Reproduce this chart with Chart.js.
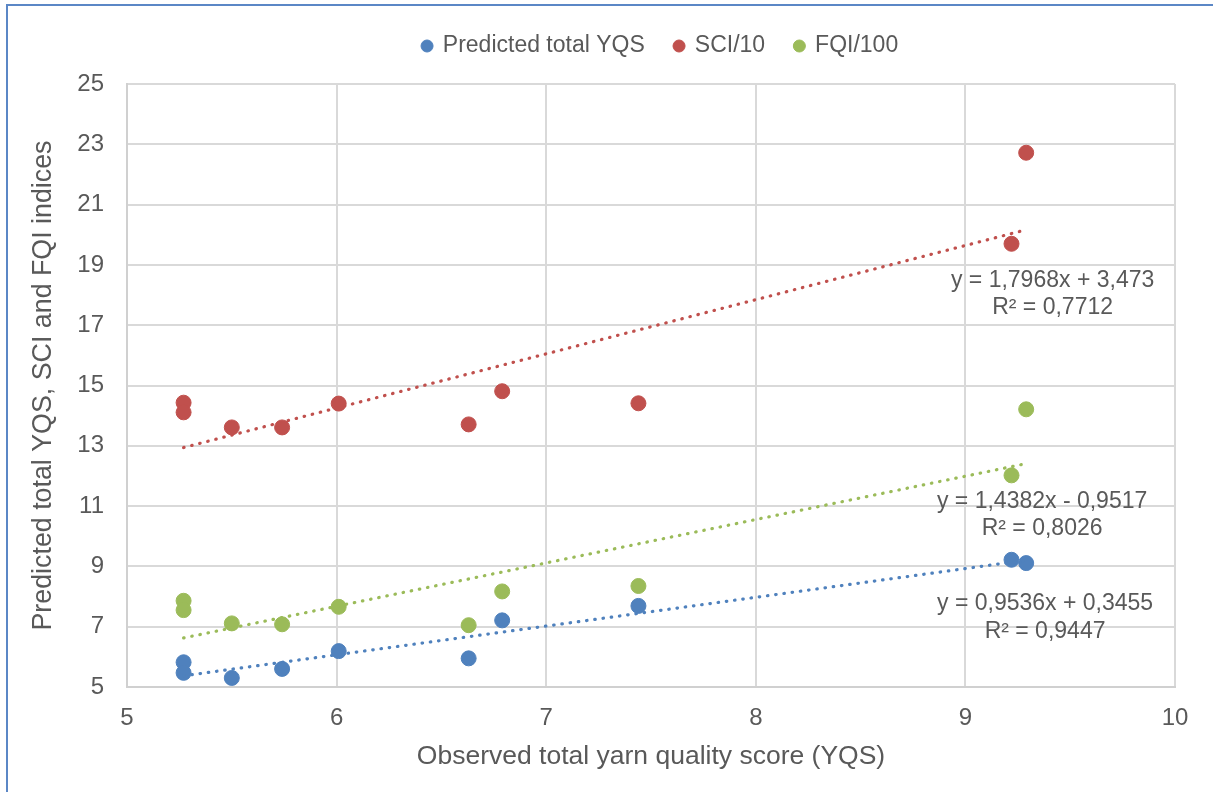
<!DOCTYPE html>
<html>
<head>
<meta charset="utf-8">
<script src="https://cdn.jsdelivr.net/npm/chart.js@4"></script>
<style>
  html, body { margin: 0; padding: 0; background: #fff; overflow: hidden; }
  #wrap { position: relative; width: 1213px; height: 792px; }
  #frame { position: absolute; left: 6px; top: 4px; width: 1300px; height: 900px;
           border-top: 2px solid #5b87c6; border-left: 2px solid #5b87c6; pointer-events: none; }
</style>
</head>
<body>
<div id="wrap">
  <canvas id="myChart" width="1213" height="792"></canvas>
  <div id="frame"></div>
</div>
<script>
'use strict';

// observed total YQS (x) - the same for all three series
const observed = [5.27, 5.27, 5.50, 5.74, 6.01, 6.63, 6.79, 7.44, 9.22, 9.29];
const predicted = [5.82, 5.47, 5.30, 5.60, 6.19, 5.95, 7.21, 7.69, 9.22, 9.11];
const sci10 = [14.43, 14.11, 13.61, 13.61, 14.40, 13.71, 14.81, 14.41, 19.70, 22.72];
const fqi100 = [7.86, 7.55, 7.11, 7.08, 7.66, 7.05, 8.17, 8.35, 12.02, 14.21];

const seriesNames = ['Predicted total YQS', 'SCI/10', 'FQI/100'];
const seriesColors = ['#4f81bd', '#c0504d', '#9bbb59'];

// linear trendlines as printed on the chart
const trendSlope = [0.9536, 1.7968, 1.4382];
const trendIntercept = [0.3455, 3.473, -0.9517];
const trendText = [
  ['y = 0,9536x + 0,3455', 'R² = 0,9447'],
  ['y = 1,7968x + 3,473', 'R² = 0,7712'],
  ['y = 1,4382x - 0,9517', 'R² = 0,8026']
];
// where the equation labels sit (in axis units)
const trendLabelAt = [[9.38, 7.75], [9.416, 18.48], [9.366, 11.16]];

const xTicks = { min: 5, max: 10, step: 1 };
const yTicks = { min: 5, max: 25, step: 2 };

const FONT = "'Liberation Sans', Arial, sans-serif";
const TEXT = '#595959';

function points(ys){
    return observed.map((x, i) => ({ x: x, y: ys[i] }));
}

function trendPoints(k){
    var lo = Math.min.apply(null, observed);
    var hi = Math.max.apply(null, observed);
    return [
        { x: lo, y: trendSlope[k] * lo + trendIntercept[k] },
        { x: hi, y: trendSlope[k] * hi + trendIntercept[k] }
    ];
}

var allY = [predicted, sci10, fqi100];
var datasets = [];
for( var i = 0 ; i < 3 ; i++ ){
    datasets.push({
        label: seriesNames[i],
        data: points(allY[i]),
        backgroundColor: seriesColors[i],
        borderColor: seriesColors[i],
        borderWidth: 1,
        pointRadius: 7.5,
        pointHoverRadius: 7.5,
        order: 2
    });
}
for( var i = 0 ; i < 3 ; i++ ){
    datasets.push({
        label: 'trend' + i,
        data: trendPoints(i),
        showLine: true,
        borderColor: seriesColors[i],
        borderWidth: 3.2,
        borderDash: [0.5, 7.8],
        borderCapStyle: 'round',
        pointRadius: 0,
        pointHoverRadius: 0,
        fill: false,
        order: 1
    });
}

const legendSpace = {
    id: 'legendSpace',
    beforeInit(chart){
        const fit = chart.legend.fit;
        chart.legend.fit = function(){
            fit.bind(chart.legend)();
            this.height += 16.5;
        };
    },
    afterLayout(chart){
        chart.legend.left += 69;
        chart.legend.right += 69;
    }
};

const trendLabels = {
    id: 'trendLabels',
    afterDatasetsDraw(chart){
        const ctx = chart.ctx;
        const xs = chart.scales.x, ys = chart.scales.y;
        ctx.save();
        ctx.font = '23px ' + FONT;
        ctx.fillStyle = TEXT;
        ctx.textAlign = 'center';
        ctx.textBaseline = 'middle';
        trendText.forEach((lines, k) => {
            var px = xs.getPixelForValue(trendLabelAt[k][0]);
            var py = ys.getPixelForValue(trendLabelAt[k][1]);
            lines.forEach((t, j) => ctx.fillText(t, px, py + j * 27.5));
        });
        ctx.restore();
    }
};

const ctx = document.getElementById('myChart');
var myChart = new Chart(ctx, {
    type: 'scatter',
    data: { datasets: datasets },
    options: {
        responsive: false,
        animation: false,
        devicePixelRatio: 1,
        layout: { padding: { left: 8, right: 38, top: 4.5, bottom: 15 } },
        plugins: {
            tooltip: { enabled: false },
            legend: {
                position: 'top',
                labels: {
                    filter: (item) => item.datasetIndex < 3,
                    usePointStyle: true,
                    pointStyle: 'circle',
                    boxWidth: 8.5,
                    boxHeight: 8.5,
                    padding: 30,
                    color: TEXT,
                    font: { family: FONT, size: 23 }
                }
            }
        },
        scales: {
            x: {
                type: 'linear',
                min: xTicks.min,
                max: xTicks.max,
                afterFit: (s) => { s.height = 90; },
                ticks: { stepSize: xTicks.step, padding: 17, color: TEXT, font: { family: FONT, size: 24 } },
                grid: { color: '#d9d9d9', lineWidth: 2, drawTicks: false },
                border: { color: '#d0d0d0', width: 2 },
                title: {
                    display: true,
                    text: 'Observed total yarn quality score (YQS)',
                    color: TEXT,
                    font: { family: FONT, size: 26.5 },
                    padding: { top: 0, bottom: 4 }
                }
            },
            y: {
                min: yTicks.min,
                max: yTicks.max,
                afterFit: (s) => { s.width = 119; },
                ticks: { stepSize: yTicks.step, padding: 23, color: TEXT, font: { family: FONT, size: 24 } },
                grid: { color: '#d9d9d9', lineWidth: 2, drawTicks: false },
                border: { color: '#d0d0d0', width: 2 },
                title: {
                    display: true,
                    text: 'Predicted total YQS, SCI and FQI indices',
                    color: TEXT,
                    font: { family: FONT, size: 26.8 },
                    padding: { top: 20, bottom: 0 }
                }
            }
        }
    },
    plugins: [legendSpace, trendLabels]
});
</script>
</body>
</html>
